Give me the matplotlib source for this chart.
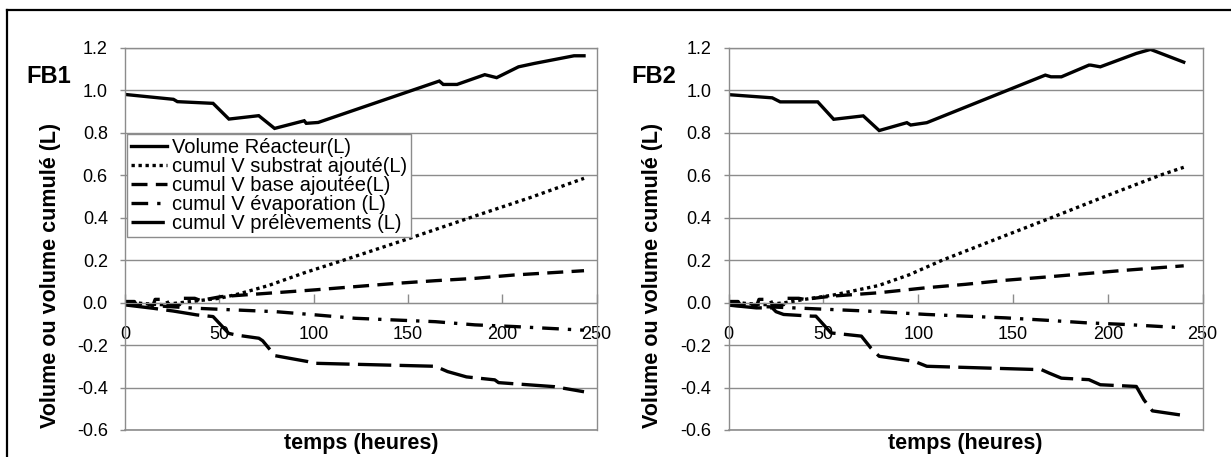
import matplotlib
matplotlib.use("Agg")
import matplotlib.pyplot as plt
from matplotlib.lines import Line2D

plt.rcParams["font.family"] = ["Liberation Sans", "DejaVu Sans"]
plt.rcParams["axes.unicode_minus"] = False

# ---- data (hours, litres) ----
labels = [
    "Volume Réacteur(L)",
    "cumul V substrat ajouté(L)",
    "cumul V base ajoutée(L)",
    "cumul V évaporation (L)",
    "cumul V prélèvements (L)",
]

# FB1
t_vol1 = [0, 25.7, 27.8, 46.7, 55.1, 70.9, 79.3, 95, 96.1, 102.4, 166.6, 168.7, 176, 190.7, 197, 208.6, 217, 238, 243.3]
v_vol1 = [0.98, 0.957, 0.946, 0.938, 0.864, 0.88, 0.82, 0.856, 0.844, 0.848, 1.043, 1.027, 1.027, 1.073, 1.059, 1.11, 1.126, 1.162, 1.162]
t_sub1 = [0, 10, 20, 30, 40, 50, 60, 76, 95, 116, 150, 183, 215, 243.3]
v_sub1 = [0.005, -0.005, -0.01, 0.0, 0.01, 0.02, 0.04, 0.08, 0.14, 0.2, 0.3, 0.4, 0.495, 0.585]
t_base1 = [0, 5, 6, 15, 16, 22, 23, 29, 30, 37, 40, 51, 76, 101, 122, 143, 164.5, 185.5, 206.5, 243.3]
v_base1 = [0.005, 0.005, -0.01, -0.01, 0.015, 0.015, -0.01, -0.01, 0.02, 0.02, 0.01, 0.028, 0.044, 0.06, 0.075, 0.09, 0.103, 0.114, 0.13, 0.15]
t_evap1 = [0, 38, 59, 80, 101, 122, 143, 164.5, 185.5, 206.5, 243.3]
v_evap1 = [-0.006, -0.027, -0.035, -0.043, -0.058, -0.074, -0.082, -0.09, -0.105, -0.113, -0.13]
t_prel1 = [0, 15, 21.5, 25.7, 38, 46.7, 55, 59, 71, 73, 79.5, 97, 101, 164.5, 171, 181, 196, 198, 227.6, 243.3]
v_prel1 = [-0.011, -0.027, -0.035, -0.04, -0.058, -0.066, -0.145, -0.153, -0.168, -0.18, -0.25, -0.278, -0.286, -0.30, -0.325, -0.35, -0.364, -0.377, -0.396, -0.42]

# FB2
t_vol2 = [0, 23, 27.2, 47, 55.4, 71, 79.4, 94, 96, 104.5, 167, 170, 175.5, 190, 191, 196, 215, 222.5, 240]
v_vol2 = [0.979, 0.964, 0.945, 0.945, 0.863, 0.879, 0.81, 0.847, 0.836, 0.847, 1.071, 1.063, 1.063, 1.118, 1.118, 1.11, 1.173, 1.192, 1.132]
t_sub2 = [0, 10, 20, 30, 40, 55, 79, 95, 112.8, 140, 170.3, 200, 227.7, 240]
v_sub2 = [0.005, -0.005, -0.01, 0.0, 0.015, 0.035, 0.08, 0.13, 0.2, 0.295, 0.4, 0.505, 0.6, 0.637]
t_base2 = [0, 5, 6, 15, 16, 22, 23, 29, 30, 37, 40, 54, 79, 104.5, 125, 146, 167, 188, 209, 240]
v_base2 = [0.005, 0.005, -0.01, -0.01, 0.015, 0.015, -0.01, -0.01, 0.02, 0.02, 0.015, 0.03, 0.046, 0.07, 0.086, 0.105, 0.12, 0.136, 0.152, 0.173]
t_evap2 = [0, 42, 73, 104.5, 125, 146, 167, 188, 209, 240]
v_evap2 = [-0.012, -0.028, -0.04, -0.056, -0.064, -0.072, -0.083, -0.095, -0.103, -0.119]
t_prel2 = [0, 14.6, 23, 25, 29, 44, 46, 54, 61.6, 70, 75, 79.4, 98, 104.5, 165, 169, 175.5, 190, 196, 215, 219, 223.5, 238]
v_prel2 = [-0.012, -0.025, -0.025, -0.043, -0.056, -0.064, -0.064, -0.143, -0.15, -0.158, -0.214, -0.253, -0.277, -0.3, -0.316, -0.332, -0.356, -0.363, -0.387, -0.395, -0.458, -0.51, -0.529]

x_ticks = [0, 50, 100, 150, 200, 250]
y_ticks = [-0.6, -0.4, -0.2, 0.0, 0.2, 0.4, 0.6, 0.8, 1.0, 1.2]

styles = [
    dict(linestyle="-", lw=2.4),
    dict(linestyle=(0, (1, 1.1)), lw=2.4, dash_capstyle="butt"),
    dict(linestyle=(0, (4.8, 2.5)), lw=2.4, dash_capstyle="butt"),
    dict(linestyle=(0, (5, 2.7, 1, 2.7)), lw=2.4, dash_capstyle="butt"),
    dict(linestyle=(0, (10, 2.5)), lw=2.4, dash_capstyle="butt"),
]

GRAY = "#8c8c8c"


def draw_panel(ax, series, name, ylab_x, name_x):
    for (t, v), st in zip(series, styles):
        ax.plot(t, v, color="black", solid_joinstyle="miter", **st)

    ax.set_xlim(0, 250)
    ax.set_ylim(-0.6, 1.2)
    ax.set_xticks(x_ticks)
    ax.set_yticks(y_ticks)
    ax.set_yticklabels([f"{y:.1f}" for y in y_ticks])

    ax.grid(True, axis="y", color=GRAY, lw=1.0)
    ax.set_axisbelow(True)
    for s in ["top", "right", "left"]:
        ax.spines[s].set_color(GRAY)
        ax.spines[s].set_linewidth(1.0)
    ax.spines["bottom"].set_position(("data", 0))
    ax.spines["bottom"].set_color(GRAY)
    ax.axhline(-0.6, color=GRAY, lw=1.2, clip_on=False, zorder=0)

    ax.tick_params(axis="x", direction="in", length=6.5, width=1, color=GRAY,
                   pad=17, labelsize=13)
    ax.tick_params(axis="y", direction="out", length=3.8, width=1, color=GRAY,
                   pad=8.5, labelsize=13)

    ax.set_ylabel("Volume ou volume cumulé (L)", fontsize=15.5, fontweight="bold")
    ax.yaxis.set_label_coords(ylab_x, 0.405)
    ax.set_xlabel("temps (heures)", fontsize=15.5, fontweight="bold", va="top")
    ax.xaxis.set_label_coords(0.5, -0.009)
    ax.text(name_x, 0.925, name, transform=ax.transAxes, fontsize=17,
            fontweight="bold", ha="center", va="center")


def main():
    fig = plt.figure(figsize=(12.31, 4.57), dpi=100)
    ax1 = fig.add_axes([0.1015, 0.0591, 0.3832, 0.8365])
    ax2 = fig.add_axes([0.5919, 0.0591, 0.3851, 0.8365])

    s1 = [(t_vol1, v_vol1), (t_sub1, v_sub1), (t_base1, v_base1), (t_evap1, v_evap1), (t_prel1, v_prel1)]
    s2 = [(t_vol2, v_vol2), (t_sub2, v_sub2), (t_base2, v_base2), (t_evap2, v_evap2), (t_prel2, v_prel2)]
    draw_panel(ax1, s1, "FB1", -0.136, -0.162)
    draw_panel(ax2, s2, "FB2", -0.1376, -0.158)

    handles = [Line2D([], [], color="black", **st) for st in styles]
    leg = ax1.legend(handles, labels, loc="upper left", bbox_to_anchor=(0.005, 0.775),
                     borderaxespad=0, fontsize=14.5, frameon=True, fancybox=False,
                     edgecolor=GRAY, framealpha=1, handlelength=1.75,
                     handletextpad=0.25, labelspacing=0.0, borderpad=0.2)
    leg.get_frame().set_linewidth(1.0)

    # outer frame (top and left edges visible in the reference)
    fig.add_artist(Line2D([7 / 1231, 1], [1 - 10 / 457, 1 - 10 / 457],
                          transform=fig.transFigure, color="black", lw=1.6))
    fig.add_artist(Line2D([7 / 1231, 7 / 1231], [0, 1 - 10 / 457],
                          transform=fig.transFigure, color="black", lw=1.6))

    fig.savefig("out.png", dpi=100)
    plt.close(fig)


if __name__ == "__main__":
    main()
